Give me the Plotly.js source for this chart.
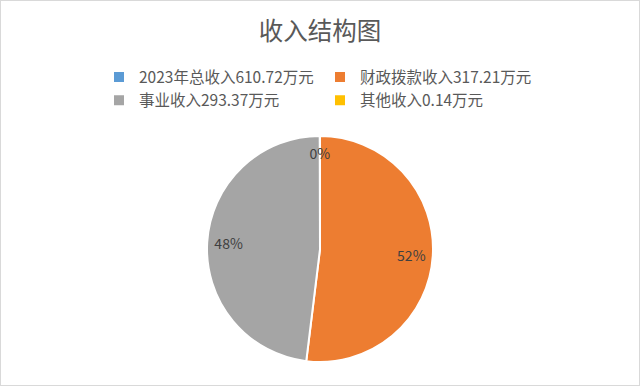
<!DOCTYPE html>
<html>
<head>
<meta charset="utf-8">
<script src="https://cdn.plot.ly/plotly-3.0.1.min.js"></script>
<style>
  html, body { margin: 0; padding: 0; background: #ffffff; }
  #chart { width: 638px; height: 384px; border: 1px solid #d9d9d9; }
</style>
</head>
<body>
<div id="chart"></div>
<script>
// Data
const categories = ['2023年总收入', '财政拨款收入', '事业收入', '其他收入'];
const amounts = [610.72, 317.21, 293.37, 0.14];          // 万元, as shown in legend
const sliceValues = [0, 317.21, 293.37, 0.14];          // the total is a legend-only entry
const sliceColors = ['#5B9BD5', '#ED7D31', '#A5A5A5', '#FFC000'];
const titleText = '收入结构图';

const labels = categories.map((c, i) => c + amounts[i].toFixed(2) + '万元');
const FONT = 'Noto Sans CJK SC, Noto Sans, sans-serif';
const clear = sliceValues.map(() => 'rgba(0,0,0,0)');

// Coloured slices (no text)
const pieTrace = {
  type: 'pie',
  labels: labels,
  values: sliceValues,
  sort: false,
  direction: 'clockwise',
  rotation: 0,
  marker: { colors: sliceColors, line: { color: '#ffffff', width: 2 } },
  textinfo: 'none',
  showlegend: true
};

// Same data, transparent ring: percentage labels of the large slices at ~0.8 of the radius
const labelTrace = {
  type: 'pie',
  labels: labels,
  values: sliceValues,
  sort: false,
  direction: 'clockwise',
  rotation: 0,
  hole: 0.62,
  marker: { colors: clear, line: { width: 0 } },
  texttemplate: '%{percent:.0%}',
  textposition: ['none', 'inside', 'inside', 'none'],
  insidetextorientation: 'horizontal',
  textfont: { family: FONT, size: 14, color: '#404040' },
  showlegend: false
};

// Same data, transparent, slightly smaller: label of the tiny slice just inside the rim
const smallLabelTrace = {
  type: 'pie',
  labels: labels,
  values: sliceValues,
  sort: false,
  direction: 'clockwise',
  rotation: 0,
  domain: { x: [0, 1], y: [0.075, 0.925] },
  marker: { colors: clear, line: { width: 0 } },
  texttemplate: '%{percent:.0%}',
  textposition: ['none', 'none', 'none', 'inside'],
  insidetextorientation: 'horizontal',
  textfont: { family: FONT, size: 14, color: '#404040' },
  showlegend: false
};

const layout = {
  width: 638,
  height: 384,
  margin: { l: 96, r: 96, t: 135, b: 23, autoexpand: false },
  paper_bgcolor: '#ffffff',
  font: { family: FONT, color: '#595959' },
  uniformtext: { mode: 'show', minsize: 14 },
  title: {
    text: titleText,
    font: { size: 24.5, color: '#595959', family: FONT },
    x: 0.5, xanchor: 'center',
    yref: 'container', y: 0.92, yanchor: 'middle'
  },
  showlegend: true,
  legend: {
    orientation: 'h',
    bgcolor: 'rgba(0,0,0,0)',
    xref: 'paper', x: 0.5, xanchor: 'center',
    yref: 'container', y: 0.845, yanchor: 'top',
    entrywidth: 176, entrywidthmode: 'pixels',
    itemwidth: 30,
    font: { size: 15.5, color: '#595959' },
    traceorder: 'normal'
  }
};

Plotly.newPlot('chart', [pieTrace, labelTrace, smallLabelTrace], layout, { staticPlot: true });
</script>
</body>
</html>
